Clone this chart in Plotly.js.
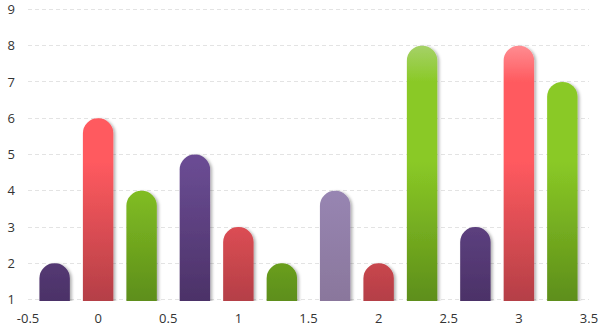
<!DOCTYPE html>
<html>
<head>
<meta charset="utf-8">
<script src="https://cdn.plot.ly/plotly-3.0.1.min.js"></script>
<style>html,body{margin:0;padding:0;background:#fff;}#chart{width:602px;height:329px;}</style>
</head>
<body>
<div id="chart"></div>
<script>
// ---- data ----
var categories = [0, 1, 2, 3];
var seriesA = [2, 5, 4, 3];   // purple
var seriesB = [6, 3, 2, 8];   // red
var seriesC = [4, 2, 8, 7];   // green
var seriesAColors = ['#6a4c93', '#6a4c93', '#9b89b8', '#6a4c93'];
var seriesBColors = ['#ff5a5f', '#ff5a5f', '#ff5a5f', '#ff5a5f'];
var seriesCColors = ['#8ac926', '#8ac926', '#8ac926', '#8ac926'];
var xTickVals = [-0.5, 0, 0.5, 1, 1.5, 2, 2.5, 3, 3.5];
var xTickText = ['-0.5', '0', '0.5', '1', '1.5', '2', '2.5', '3', '3.5'];
var yTickVals = [1, 2, 3, 4, 5, 6, 7, 8, 9];

// gradient definitions keyed by base colour: [top(light), main, bottom(dark)]
var gradients = {
  '#6a4c93': ['#7a5ea3', '#6a4c93', '#4c3268'],
  '#9b89b8': ['#a898c4', '#9b89b8', '#8a779c'],
  '#ff5a5f': ['#ff9196', '#ff5a5f', '#b53f47'],
  '#8ac926': ['#a8d26e', '#8ac926', '#5e8f1a']
};

function mk(y, colors) {
  return {
    type: 'bar', x: categories, y: y,
    marker: {color: colors, cornerradius: 15, line: {width: 0}},
    hoverinfo: 'none'
  };
}
var traces = [mk(seriesA, seriesAColors), mk(seriesB, seriesBColors), mk(seriesC, seriesCColors)];

var font = {family: '"Open Sans", "Noto Sans", sans-serif', size: 13, color: '#333333'};
var layout = {
  width: 602, height: 329,
  margin: {l: 28, r: 13, t: 8, b: 28},
  paper_bgcolor: '#ffffff', plot_bgcolor: '#ffffff',
  barmode: 'group', bargap: 0.07, bargroupgap: 0.3,
  showlegend: false,
  font: font,
  xaxis: {
    range: [-0.5, 3.5], tickvals: xTickVals, ticktext: xTickText,
    showgrid: false, zeroline: false, showline: false, ticks: '',
    ticklabelstandoff: 8, tickfont: font, fixedrange: true
  },
  yaxis: {
    range: [0.96, 9.04], tickvals: yTickVals,
    showgrid: true, gridcolor: '#e3e3e3', gridwidth: 1, griddash: '4px,3px',
    zeroline: false, showline: false, ticks: '',
    ticklabelstandoff: 12, tickfont: font, fixedrange: true
  }
};

var gd = document.getElementById('chart');
Plotly.newPlot(gd, traces, layout, {displayModeBar: false, staticPlot: true}).then(function() {
  var ya = gd._fullLayout.yaxis;
  var svg = gd.querySelector('svg.main-svg');
  var NS = 'http://www.w3.org/2000/svg';
  var defs = svg.querySelector('defs');
  if (!defs) { defs = document.createElementNS(NS, 'defs'); svg.insertBefore(defs, svg.firstChild); }
  var yTop = ya.l2p(9), yBot = ya.l2p(1);
  function off(v) { return (ya.l2p(v) - yTop) / (yBot - yTop); }
  var ids = {}; var n = 0;
  Object.keys(gradients).forEach(function(c) {
    var g = document.createElementNS(NS, 'linearGradient');
    var id = 'grad' + (n++);
    g.setAttribute('id', id);
    g.setAttribute('gradientUnits', 'userSpaceOnUse');
    g.setAttribute('x1', 0); g.setAttribute('x2', 0);
    g.setAttribute('y1', yTop); g.setAttribute('y2', yBot);
    var s = gradients[c];
    [[off(8.1), s[0]], [off(7.0), s[1]], [off(4.8), s[1]], [1, s[2]]].forEach(function(st) {
      var e = document.createElementNS(NS, 'stop');
      e.setAttribute('offset', st[0]); e.setAttribute('stop-color', st[1]);
      g.appendChild(e);
    });
    defs.appendChild(g);
    ids[c] = id;
  });
  var f = document.createElementNS(NS, 'filter');
  f.setAttribute('id', 'barshadow');
  f.setAttribute('x', '-30%'); f.setAttribute('y', '-10%');
  f.setAttribute('width', '160%'); f.setAttribute('height', '130%');
  var ds = document.createElementNS(NS, 'feDropShadow');
  ds.setAttribute('dx', 2); ds.setAttribute('dy', 1);
  ds.setAttribute('stdDeviation', 1.5);
  ds.setAttribute('flood-color', '#000'); ds.setAttribute('flood-opacity', 0.3);
  f.appendChild(ds); defs.appendChild(f);

  var traceGroups = gd.querySelectorAll('g.trace.bars');
  traceGroups.forEach(function(tg, ti) {
    var colors = traces[ti].marker.color;
    tg.querySelectorAll('g.point path').forEach(function(p, pi) {
      var id = ids[colors[pi]];
      p.style.fill = 'url(#' + id + ')';
      p.setAttribute('filter', 'url(#barshadow)');
    });
  });
});
</script>
</body>
</html>
